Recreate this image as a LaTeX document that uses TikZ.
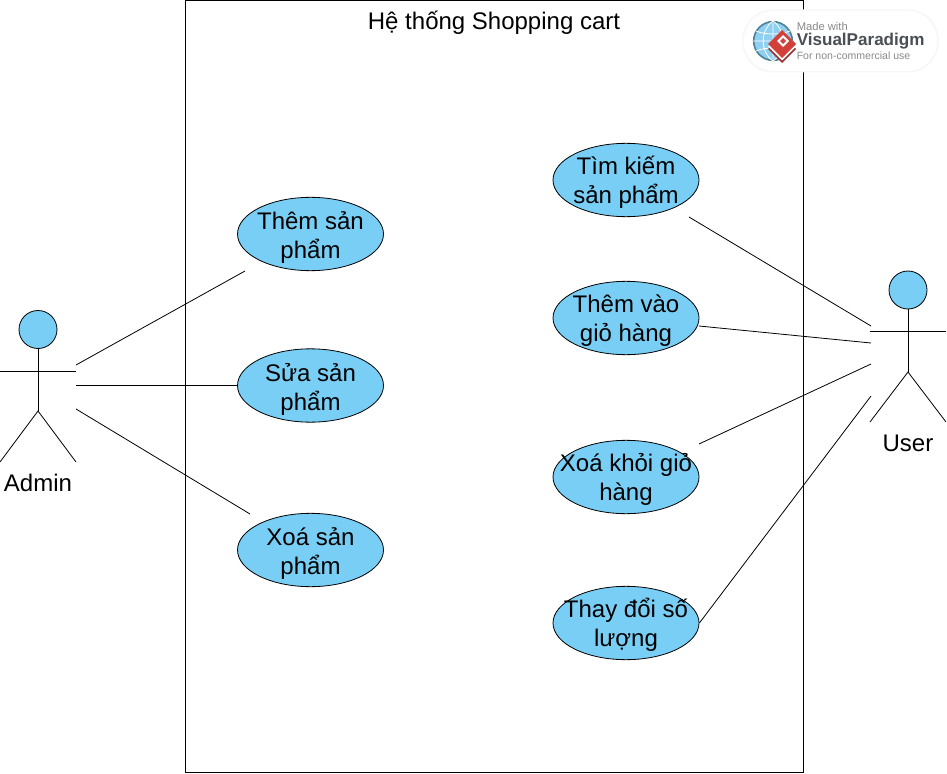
\documentclass[tikz,border=0pt]{standalone}
\usepackage{fontspec}
\setmainfont{Liberation Sans}
\usetikzlibrary{shapes.geometric,calc}
\definecolor{ucfill}{HTML}{79CEF5}
\definecolor{vpgrey}{HTML}{8A8A8A}
\definecolor{vpdark}{HTML}{4A4F55}
\definecolor{vpred}{HTML}{D2403A}
\definecolor{vpglobe}{HTML}{8FD0F0}
\definecolor{vpring}{HTML}{4F8296}
\newcommand{\uctext}[2]{\raisebox{-7.5pt}[0pt][0pt]{\makebox[0pt]{#1}}\\\raisebox{-7.5pt}[0pt][0pt]{\makebox[0pt]{#2}}}
\newcommand{\uctextr}[2]{\raisebox{-6.9pt}[0pt][0pt]{\makebox[0pt]{#1}}\\\raisebox{-6.9pt}[0pt][0pt]{\makebox[0pt]{#2}}}
\tikzset{
  ucase/.style={draw=black,line width=0.6pt,fill=ucfill,ellipse,minimum width=109.5pt,minimum height=55pt,inner sep=0pt,align=center,font=\fontsize{18}{21.75}\selectfont},
  label/.style={font=\fontsize{18}{21.75}\selectfont,inner sep=0pt,text=black},
  limb/.style={draw=black,line width=0.6pt},
  head/.style={draw=black,line width=0.6pt,fill=ucfill,circle,minimum size=28.5pt,inner sep=0pt},
  assoc/.style={draw=black,line width=0.6pt},
}
\begin{document}
\begin{tikzpicture}[x=0.75pt,y=-0.75pt]
\useasboundingbox (0,0) rectangle (947,774);
\fill[white] (0,0) rectangle (947,774);
\node[draw=black,line width=0.75pt,minimum width=463.25pt,minimum height=578.5pt,inner sep=0pt,anchor=north west] (sys) at (185.3,0.3) {};
\node[label,anchor=center] (title) at (494,23) {Hệ thống Shopping cart};
% use cases
\node[ucase] (u1) at (310.5,234) {\uctext{Thêm sản}{phẩm}};
\node[ucase] (u2) at (310.5,385.5) {\uctext{Sửa sản}{phẩm}};
\node[ucase] (u3) at (310.5,550) {\uctext{Xoá sản}{phẩm}};
\node[ucase] (u4) at (626,180) {\uctextr{Tìm kiếm}{sản phẩm}};
\node[ucase] (u5) at (626,318) {\uctextr{Thêm vào}{giỏ hàng}};
\node[ucase] (u6) at (626,477) {\uctextr{Xoá khỏi giỏ}{hàng}};
\node[ucase] (u7) at (626,623) {\uctextr{Thay đổi số}{lượng}};
% admin actor
\node[head] (ah) at (38,329.5) {};
\coordinate (ahip) at (38,411);
\coordinate (al) at (0,371);
\coordinate (ar) at (76,371);
\coordinate (afl) at (0,462);
\coordinate (afr) at (76,462);
\draw[limb] (ah) -- (ahip);
\draw[limb] (al) -- (ar);
\draw[limb] (afl) -- (ahip) -- (afr);
\node[label] (admin) at (38,483) {Admin};
% user actor
\node[head] (uh) at (908,290) {};
\coordinate (uhip) at (908,372);
\coordinate (ul) at (870,331);
\coordinate (ur) at (946,331);
\coordinate (ufl) at (870,422);
\coordinate (ufr) at (946,422);
\draw[limb] (uh) -- (uhip);
\draw[limb] (ul) -- (ur);
\draw[limb] (ufl) -- (uhip) -- (ufr);
\node[label] (user) at (908,443) {User};
% associations
\coordinate (a1) at (76,365);
\coordinate (a2) at (76,385.5);
\coordinate (a3) at (76,409);
\coordinate (e1) at (245,271);
\coordinate (e3) at (250,514);
\draw[assoc] (a1) -- (e1);
\draw[assoc] (a2) -- (u2.west);
\draw[assoc] (a3) -- (e3);
\coordinate (b1) at (871,326);
\coordinate (b2) at (871,343);
\coordinate (b3) at (871,364);
\coordinate (b4) at (871,396);
\coordinate (f1) at (689,217);
\coordinate (f2) at (699,326);
\coordinate (f3) at (699,444);
\draw[assoc] (b1) -- (f1);
\draw[assoc] (b2) -- (f2);
\draw[assoc] (b3) -- (f3);
\draw[assoc] (b4) -- (u7.east);
% watermark
\fill[black!3,rounded corners=22.5pt] (742.5,9.5) rectangle (938.5,72.5);
\fill[white,rounded corners=22pt] (744,11) rectangle (937,71);
\node[circle,draw=vpring,fill=vpglobe,line width=1.2pt,minimum size=29pt,inner sep=0pt] (globe) at (773,41) {};
\draw[white,line width=0.6pt] (globe.west) -- (globe.east) (globe.north) -- (globe.south)
  (globe.north) .. controls (760,30) and (760,52) .. (globe.south)
  (globe.north) .. controls (786,30) and (786,52) .. (globe.south)
  (756,31) .. controls (765,35) and (781,35) .. (790,31)
  (756,51) .. controls (765,47) and (781,47) .. (790,51);
\fill[vpred!75!black] (768,49) -- (782,35) -- (796,49) -- (782,63) -- cycle;
\fill[white] (768,46.5) -- (782,32.5) -- (796,46.5) -- (782,60.5) -- cycle;
\fill[vpred] (768,44) -- (782,30) -- (796,44) -- (782,58) -- cycle;
\fill[white] (777,41) -- (783,35) -- (789,41) -- (783,47) -- cycle;
\fill[vpred] (780,41) -- (783,38) -- (786,41) -- (783,44) -- cycle;
\node[anchor=west,inner sep=0pt,text=vpgrey,font=\fontsize{8.4}{10}\selectfont] (vp1) at (796.5,26.5) {Made with};
\node[anchor=west,inner sep=0pt,text=vpdark,font=\bfseries\fontsize{12.8}{14}\selectfont] (vp2) at (796.5,41) {VisualParadigm};
\node[anchor=west,inner sep=0pt,text=vpgrey,font=\fontsize{7.9}{10}\selectfont] (vp3) at (796.5,55.5) {For non-commercial use};
\end{tikzpicture}
\end{document}
